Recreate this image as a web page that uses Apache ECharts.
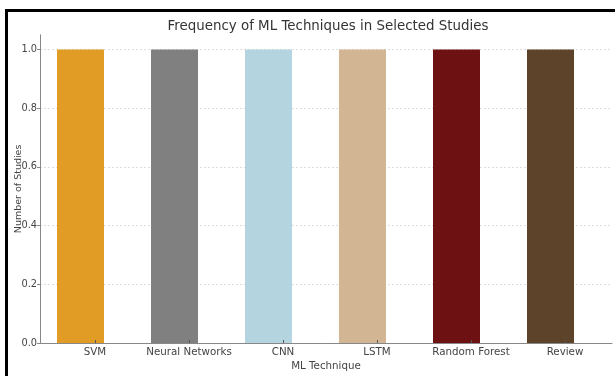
<!DOCTYPE html>
<html>
<head>
<meta charset="utf-8">
<script src="https://cdn.jsdelivr.net/npm/echarts@6/dist/echarts.min.js"></script>
<style>
html,body{margin:0;padding:0;background:#fff;}
#c{width:615px;height:376px;}
</style>
</head>
<body>
<div id="c"></div>
<script>
const categories = ['SVM', 'Neural Networks', 'CNN', 'LSTM', 'Random Forest', 'Review'];
const counts = [1, 1, 1, 1, 1, 1];
const barColors = ['#E09C24', '#808080', '#B4D4DF', '#D2B592', '#6E1113', '#5C432A'];
const yTicks = [0, 0.2, 0.4, 0.6, 0.8, 1.0];

const FONT = 'DejaVu Sans';
const chart = echarts.init(document.getElementById('c'));
const gTop = 34.8, gBottom = 33, tickTop = 49.5;
chart.setOption({
  animation: false,
  title: {
    text: 'Frequency of ML Techniques in Selected Studies',
    left: 323, top: 15, textAlign: 'center',
    textStyle: { fontFamily: FONT, fontSize: 13.4, fontWeight: 'normal', color: '#333' }
  },
  graphic: [
    { type: 'rect', shape: { x: 5, y: 9, width: 610, height: 3 }, style: { fill: '#000' }, z: 100 },
    { type: 'rect', shape: { x: 5, y: 9, width: 3, height: 367 }, style: { fill: '#000' }, z: 100 }
  ],
  grid: [
    { left: 33.5, right: 17.5, top: gTop, bottom: gBottom },
    { left: 40, right: 3, top: gTop, bottom: gBottom },
    { left: 48, right: 3, top: gTop, bottom: gBottom },
    { left: 40, right: 3, top: tickTop, bottom: gBottom }
  ],
  xAxis: [
    { gridIndex: 0, type: 'category', data: categories, show: false },
    { gridIndex: 1, type: 'value', min: 0, max: 1,
      axisLine: { show: true, lineStyle: { color: '#888', width: 1 } },
      axisTick: { show: false }, axisLabel: { show: false }, splitLine: { show: false },
      name: 'ML Technique', nameLocation: 'middle', nameGap: 18,
      nameTextStyle: { fontFamily: FONT, fontSize: 10.3, color: '#444' }, z: 5 },
    { gridIndex: 2, type: 'category', data: categories, z: 6,
      axisLine: { show: false },
      axisTick: { show: true, alignWithLabel: true, inside: true, length: 3, lineStyle: { color: '#555' } },
      axisLabel: { fontFamily: FONT, fontSize: 10.3, color: '#444', margin: 4, interval: 0 } },
    { gridIndex: 3, type: 'value', min: 0, max: 1, show: false }
  ],
  yAxis: [
    { gridIndex: 0, type: 'value', min: 0, max: 1.05, show: false },
    { gridIndex: 1, type: 'value', min: 0, max: 1.05,
      axisLine: { show: true, lineStyle: { color: '#888', width: 1 } },
      axisTick: { show: false }, axisLabel: { show: false }, splitLine: { show: false },
      name: 'Number of Studies', nameLocation: 'middle', nameGap: 16,
      nameTextStyle: { fontFamily: FONT, fontSize: 9.5, color: '#444' } },
    { gridIndex: 2, type: 'value', min: 0, max: 1.05, show: false },
    { gridIndex: 3, type: 'value', min: 0, max: 1, interval: 0.2,
      axisLine: { show: false },
      axisTick: { show: true, length: 3, lineStyle: { color: '#888' } },
      axisLabel: { fontFamily: FONT, fontSize: 9.8, color: '#444', margin: 3,
        formatter: v => yTicks.some(t => Math.abs(t - v) < 1e-9) ? v.toFixed(1) : '' },
      splitLine: { show: true, lineStyle: { color: '#ddd', type: [2, 2], width: 1 } } }
  ],
  series: [{
    type: 'bar', xAxisIndex: 0, yAxisIndex: 0,
    barWidth: 47,
    data: counts.map((v, i) => ({ value: v, itemStyle: { color: barColors[i] } })),
    z: 3
  }]
});
</script>
</body>
</html>
